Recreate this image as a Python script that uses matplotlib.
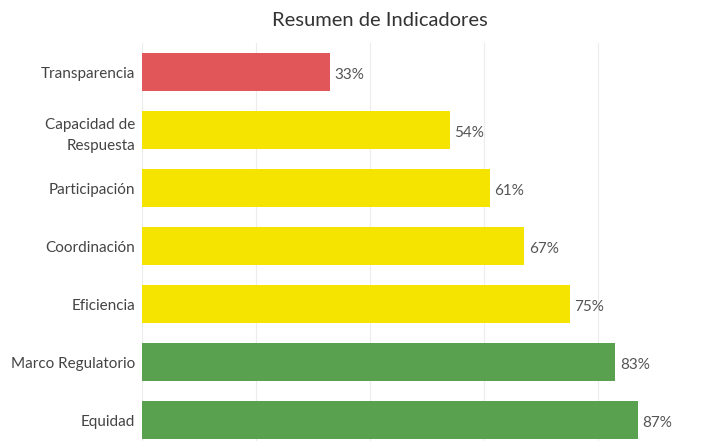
import matplotlib.pyplot as plt
import numpy as np

plt.rcParams['font.family'] = ['Lato', 'DejaVu Sans']

categorias = ["Transparencia", "Capacidad de\nRespuesta", "Participación",
              "Coordinación", "Eficiencia", "Marco Regulatorio", "Equidad"]
valores = [33, 54, 61, 67, 75, 83, 87]
colores = ["#E15759", "#F5E400", "#F5E400", "#F5E400", "#F5E400", "#59A14F", "#59A14F"]

W, H = 702, 441
fig = plt.figure(figsize=(W / 100, H / 100), dpi=100)
ax = fig.add_axes([142 / W, 0, 1 - 142 / W, 1 - 43 / H])

y = np.arange(len(categorias))
ax.barh(y, valores, height=0.66, color=colores, zorder=2)

for yi, v in zip(y, valores):
    ax.text(v + 0.8, yi + 0.05, f"{v}%", va="center", ha="left",
            fontsize=11, color="#555555")

ax.set_xlim(0, 98.2)
ax.set_ylim(6.36, -0.5)
ax.set_xticks([0, 20, 40, 60, 80])
ax.xaxis.grid(True, color="#ececec", linewidth=0.8, zorder=0)
ax.tick_params(axis="x", bottom=False, labelbottom=False)
ax.set_yticks(y)
ax.set_yticklabels(categorias, fontsize=11, color="#444444")
ax.tick_params(axis="y", left=False, pad=1.5)
for lbl in ax.get_yticklabels():
    lbl.set_horizontalalignment("right")
    lbl.set_multialignment("right")
    lbl.set_linespacing(1.65)
for s in ax.spines.values():
    s.set_visible(False)

fig.text(380 / W, 1 - 20 / H, "Resumen de Indicadores", ha="center", va="center",
         fontsize=14.5, color="#333333")

fig.savefig("out.png", dpi=100)
